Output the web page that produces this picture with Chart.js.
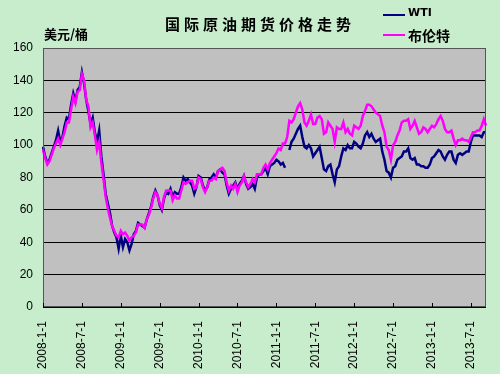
<!DOCTYPE html>
<html>
<head>
<meta charset="utf-8">
<script src="https://cdn.jsdelivr.net/npm/chart.js@4/dist/chart.umd.min.js"></script>
<style>
  body { margin: 0; background: #C7EDCC; }
  #wrap { position: relative; width: 500px; height: 374px; }
  .txt { position: absolute; font-family: "Noto Sans CJK SC", sans-serif; font-weight: bold; color: #000; white-space: nowrap; }
  #title { left: 165px; top: 13px; font-size: 15px; letter-spacing: 4px; }
  #unit { left: 44px; top: 24px; font-size: 13px; }
  .leg { position: absolute; left: 383px; width: 22px; height: 2px; }
</style>
</head>
<body>
<div id="wrap">
  <canvas id="oilChart" width="500" height="374"></canvas>
  <div class="txt" id="title">国际原油期货价格走势</div>
  <div class="txt" id="unit">美元/桶</div>
  <div class="leg" style="top:14px;background:#000080"></div>
  <div class="txt" style="left:408px;top:6px;font-size:11px;font-family:'DejaVu Sans',sans-serif">WTI</div>
  <div class="leg" style="top:34px;background:#FF00FF"></div>
  <div class="txt" style="left:408px;top:25px;font-size:14px">布伦特</div>
</div>
<script>
// samples on the 1st, 11th and 21st of each month, 2008-1 .. 2013-9
const years = [2008, 2009, 2010, 2011, 2012, 2013];
const tickLabels = ['2008-1-1', '2008-7-1', '2009-1-1', '2009-7-1', '2010-1-1', '2010-7-1',
    '2011-1-1', '2011-7-1', '2012-1-1', '2012-7-1', '2013-1-1', '2013-7-1'];

const wti = [
    99, 93, 89, 91, 95, 99, 103, 109, 102, 105, 112, 117, 116, 125, 132, 127, 134, 136,
    145, 138, 128, 121, 113, 117, 108, 102, 109, 93, 82, 70, 64, 58, 50, 46, 43, 36,
    44, 37, 42, 40, 35, 39, 45, 47, 52, 51, 50, 49, 54, 58, 62, 68, 72, 69,
    63, 60, 67, 71, 70, 73, 68, 71, 70, 70, 74, 80, 78, 79, 77, 75, 70, 74,
    81, 80, 75, 72, 74, 79, 80, 82, 80, 84, 85, 83, 82, 75, 70, 73, 75, 77,
    73, 76, 78, 81, 76, 73, 74, 76, 73, 80, 82, 82, 84, 86, 82, 87, 88, 89,
    91, 90, 88, 89, 86, null, 97, 102, 104, 107, 110, 112, 105, 99, 98, 100, 98, 93,
    95, 97, 99, 92, 85, 84, 87, 88, 82, 77, 85, 87, 93, 98, 97, 100, 98, 98,
    102, 101, 99, 98, 101, 106, 108, 105, 107, 104, 102, 103, 104, 96, 91, 84, 83, 80,
    86, 87, 91, 92, 93, 96, 96, 98, 92, 91, 92, 88, 88, 87, 87, 86, 86, 88,
    92, 93, 95, 97, 96, 93, 91, 94, 96, 96, 91, 89, 94, 95, 94, 95, 96, 96,
    102, 106, 106, 106, 106, 105, 108, 108
];

const brent = [
    97, 92, 88, 90, 94, 98, 101, 104, 100, 104, 108, 114, 114, 122, 130, 126, 133, 134,
    144, 140, 128, 124, 111, 114, 106, 97, 102, 89, 79, 68, 61, 55, 50, 47, 44, 43,
    47, 45, 46, 44, 41, 43, 44, 46, 51, 51, 51, 49, 54, 57, 61, 67, 71, 69,
    64, 61, 68, 72, 72, 72, 66, 69, 67, 67, 72, 77, 76, 77, 78, 78, 73, 74,
    80, 79, 74, 71, 74, 78, 78, 80, 79, 84, 85, 86, 84, 77, 72, 75, 73, 76,
    71, 75, 77, 81, 77, 74, 76, 79, 77, 82, 82, 82, 86, 88, 85, 89, 91, 93,
    95, 98, 97, 101, 101, 105, 115, 114, 116, 120, 124, 126, 122, 114, 112, 115, 119, 113,
    113, 117, 118, 116, 107, 108, 114, 112, 110, 102, 111, 110, 110, 114, 108, 110, 107, 106,
    112, 111, 110, 112, 118, 121, 125, 125, 124, 122, 120, 119, 118, 112, 108, 99, 97, 91,
    100, 102, 106, 109, 114, 115, 115, 116, 110, 112, 115, 111, 107, 108, 111, 110, 108, 110,
    112, 111, 113, 116, 118, 115, 110, 108, 108, 109, 104, 100, 103, 103, 104, 103, 103, 102,
    105, 108, 108, 109, 109, 112, 116, 112
];

const labels = [];
years.forEach(y => {
    for (let m = 1; m <= 12; m++) {
        [1, 11, 21].forEach(d => labels.push(y + '-' + m + '-' + d));
    }
});
labels.length = wti.length;

const plotBg = {
    id: 'plotBg',
    beforeDraw(chart) {
        const { ctx, chartArea: a } = chart;
        ctx.save();
        ctx.fillStyle = '#C0C0C0';
        ctx.fillRect(a.left, a.top, a.right - a.left, a.bottom - a.top);
        ctx.restore();
    },
    afterDatasetsDraw(chart) {
        const { ctx, chartArea: a, scales } = chart;
        ctx.save();
        ctx.strokeStyle = '#555';
        ctx.lineWidth = 1;
        ctx.strokeRect(a.left + 0.5, a.top + 0.5, a.right - a.left - 1, a.bottom - a.top - 1);
        ctx.strokeStyle = '#000';
        ctx.beginPath();
        scales.x.ticks.forEach((t, i) => {
            if (t.label === null || t.label === undefined) return;
            const x = Math.round(scales.x.getPixelForTick(i)) + 0.5;
            ctx.moveTo(x, a.bottom);
            ctx.lineTo(x, a.bottom - 4);
        });
        ctx.stroke();
        ctx.restore();
    }
};

new Chart(document.getElementById('oilChart'), {
    type: 'line',
    data: {
        labels: labels,
        datasets: [{
            label: 'WTI',
            data: wti,
            borderColor: '#000080',
            borderWidth: 2.5,
            pointRadius: 0,
            tension: 0,
            order: 1
        }, {
            label: '布伦特',
            data: brent,
            borderColor: '#FF00FF',
            borderWidth: 2.5,
            pointRadius: 0,
            tension: 0,
            order: 0
        }]
    },
    options: {
        responsive: false,
        animation: false,
        layout: { padding: { top: 48, right: 14, left: 0, bottom: 0 } },
        plugins: { legend: { display: false }, tooltip: { enabled: false } },
        scales: {
            x: {
                type: 'category',
                offset: false,
                grid: { display: false },
                border: { display: false },
                afterFit(s) { s.height = 67; },
                ticks: {
                    autoSkip: false,
                    minRotation: 90,
                    maxRotation: 90,
                    padding: 6,
                    color: '#000',
                    font: { family: 'Liberation Sans', size: 12 },
                    callback(v, i) { return i % 18 === 0 ? tickLabels[i / 18] : null; }
                }
            },
            y: {
                min: 0,
                max: 160,
                afterFit(s) { s.width = 43; },
                grid: { color: '#000', lineWidth: 1, drawTicks: false },
                border: { display: false },
                ticks: {
                    stepSize: 20,
                    padding: 10,
                    color: '#000',
                    font: { family: 'Liberation Sans', size: 12 }
                }
            }
        }
    },
    plugins: [plotBg]
});
</script>
</body>
</html>
